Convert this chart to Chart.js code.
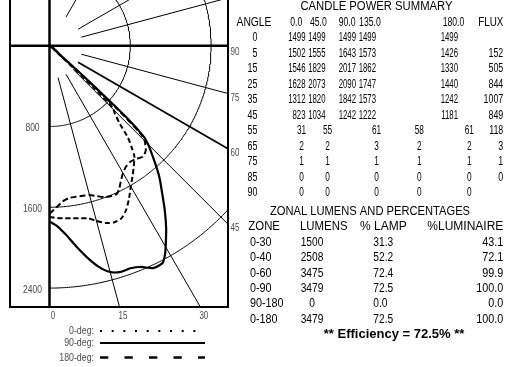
<!DOCTYPE html>
<html>
<head>
<meta charset="utf-8">
<style>
  html, body { margin: 0; padding: 0; background: #fff; overflow: hidden; }
  canvas { display: block; }
</style>
<script src="https://cdn.jsdelivr.net/npm/chart.js@4/dist/chart.umd.min.js"></script>
</head>
<body>
<canvas id="c" width="505" height="367"></canvas>
<script>
// ---- Candela distribution curves (angle from nadir in degrees, candela) ----
const curve0Angles = [0, 2.5, 5, 7.5, 10, 12.5, 15, 17.5, 20, 22.5, 25, 27.5, 30, 32.5, 35, 37.5, 39, 40.5, 42, 44, 45.5, 46.5, 47.5, 49, 55, 65, 75, 85, 90];
const curve0Cd     = [1695, 1708, 1716, 1724, 1736, 1750, 1795, 1840, 1862, 1853, 1795, 1705, 1610, 1530, 1455, 1380, 1290, 1195, 1040, 930, 880, 600, 250, 60, 31, 2, 1, 0, 0];

const curve90Angles = [0, 2.5, 5, 7.5, 10, 12.5, 15, 17.5, 20, 22.5, 25, 27.5, 29, 30, 32.5, 35, 37.5, 40, 42.5, 44, 45, 46, 47, 48, 49, 55, 65, 75, 85, 90];
const curve90Cd     = [1740, 1790, 1880, 2000, 2125, 2240, 2320, 2348, 2345, 2370, 2430, 2425, 2360, 2300, 2150, 1990, 1830, 1690, 1530, 1440, 1380, 1300, 1050, 500, 150, 61, 3, 1, 0, 0];

const curve180Angles = [0, 2.5, 5, 7.5, 10, 12.5, 15, 17.5, 20, 22.5, 24.5, 26, 27.5, 30, 32.5, 35, 37.5, 40, 42.5, 44, 45, 46, 47, 48, 49, 55, 65, 75, 85, 90];
const curve180Cd     = [1665, 1600, 1545, 1520, 1518, 1522, 1530, 1562, 1595, 1610, 1610, 1575, 1525, 1455, 1415, 1400, 1412, 1435, 1410, 1365, 1335, 1250, 900, 400, 100, 61, 2, 1, 0, 0];

// ---- Polar grid ----
const ringValues   = [800, 1600, 2400];
const spokeAngles  = [15, 30, 45, 60, 75, 105, 120, 150];
const heavySpoke   = 60;
const angleLabels  = [0, 15, 30, 45, 60, 75, 90];

// ---- Candle power summary ----
const cpTitle      = 'CANDLE POWER SUMMARY';
const cpAngleHead  = 'ANGLE';
const cpPlanes     = ['0.0', '45.0', '90.0', '135.0', '180.0'];
const cpFluxHead   = 'FLUX';
const cpAngles     = [0, 5, 15, 25, 35, 45, 55, 65, 75, 85, 90];
const cp0          = [1499, 1502, 1546, 1628, 1312, 823, 31, 2, 1, 0, 0];
const cp45         = [1499, 1555, 1829, 2073, 1820, 1034, 55, 2, 1, 0, 0];
const cp90         = [1499, 1643, 2017, 2090, 1842, 1242, 61, 3, 1, 0, 0];
const cp135        = [1499, 1573, 1862, 1747, 1573, 1222, 58, 2, 1, 0, 0];
const cp180        = [1499, 1426, 1330, 1440, 1242, 1181, 61, 2, 1, 0, 0];
const cpFlux       = [null, 152, 505, 844, 1007, 849, 118, 3, 1, 0, null];

// ---- Zonal lumens ----
const zlTitle      = 'ZONAL LUMENS AND PERCENTAGES';
const zlHeads      = ['ZONE', 'LUMENS', '% LAMP', '%LUMINAIRE'];
const zlZones      = ['0-30', '0-40', '0-60', '0-90', '90-180', '0-180'];
const zlLumens     = [1500, 2508, 3475, 3479, 0, 3479];
const zlPctLamp    = [31.3, 52.2, 72.4, 72.5, 0.0, 72.5];
const zlPctLum     = [43.1, 72.1, 99.9, 100.0, 0.0, 100.0];
const efficiency   = 72.5;

// ---- Legend ----
const legendLabels = ['0-deg:', '90-deg:', '180-deg:'];

// ---- Layout ----
const W = 505, H = 367;
const ORIGIN = { x: 49.5, y: 45.7 };      // lamp centre, px
const PX_PER_CD = 0.101;
const FRAME = { left: 10, right: 228, bottom: 307 };
const SPOKE_START = 33;                    // px from the centre
const FONT = '"Liberation Sans", Arial, sans-serif';
const GREY = '#4a4a4a';

const rad = d => d * Math.PI / 180;
const polar = (deg, cd) => ({ x: cd * Math.sin(rad(deg)), y: -cd * Math.cos(rad(deg)) });
const curvePoints = (angles, cds) => angles.map((a, i) => polar(a, cds[i]));

const ringDatasets = ringValues.map(v => {
  const pts = [];
  for (let a = 0; a <= 180; a += 0.5) pts.push(polar(a, v));
  return { data: pts, showLine: true, borderColor: '#000', borderWidth: 1, pointRadius: 0, tension: 0 };
});

const spokeDatasets = spokeAngles.map(a => ({
  data: [polar(a, SPOKE_START / PX_PER_CD), polar(a, 6000)],
  showLine: true, borderColor: '#000', borderWidth: a === heavySpoke ? 1.8 : 1,
  pointRadius: 0, tension: 0
}));

const curveDatasets = [
  { label: '0-deg',   data: curvePoints(curve0Angles, curve0Cd),   borderDash: [5, 3], borderWidth: 2 },
  { label: '90-deg',  data: curvePoints(curve90Angles, curve90Cd), borderDash: [],     borderWidth: 2.2 },
  { label: '180-deg', data: curvePoints(curve180Angles, curve180Cd), borderDash: [6, 3], borderWidth: 2 }
].map(d => Object.assign(d, { showLine: true, borderColor: '#000', pointRadius: 0, tension: 0.25, borderCapStyle: 'butt' }));

// text helper: horizontal squeeze, vertical centring on cap height
function text(ctx, s, x, y, o = {}) {
  const size = o.size || 12, sx = o.sx || 0.92, align = o.align || 'left';
  ctx.save();
  ctx.font = (o.bold ? 'bold ' : '') + size + 'px ' + FONT;
  ctx.fillStyle = o.color || '#000';
  ctx.textBaseline = 'alphabetic';
  ctx.textAlign = 'left';
  const w = ctx.measureText(s).width * sx;
  const x0 = align === 'left' ? x : align === 'right' ? x - w : x - w / 2;
  ctx.translate(x0, y + size * 0.358);
  ctx.scale(sx, 1);
  ctx.fillText(s, 0, 0);
  ctx.restore();
}

const framePlugin = {
  id: 'photometricFrame',
  beforeDatasetsDraw(chart) {
    const ctx = chart.ctx;
    ctx.save();
    ctx.beginPath();
    ctx.rect(ORIGIN.x, -50, FRAME.right - ORIGIN.x, FRAME.bottom + 50);
    ctx.clip();
  },
  afterDatasetsDraw(chart) {
    const ctx = chart.ctx;
    ctx.restore();
    const sx = chart.scales.x, sy = chart.scales.y;
    const ox = sx.getPixelForValue(0), oy = sy.getPixelForValue(0);
    ctx.save();
    ctx.strokeStyle = '#000';
    ctx.lineCap = 'butt';
    ctx.lineWidth = 2;
    ctx.beginPath();
    ctx.moveTo(FRAME.left, -5); ctx.lineTo(FRAME.left, FRAME.bottom);
    ctx.lineTo(FRAME.right, FRAME.bottom); ctx.lineTo(FRAME.right, -5);
    ctx.stroke();
    ctx.lineWidth = 2.5;
    ctx.beginPath();
    ctx.moveTo(ox, -5); ctx.lineTo(ox, FRAME.bottom);
    ctx.moveTo(FRAME.left, oy); ctx.lineTo(FRAME.right, oy);
    ctx.stroke();
    ctx.restore();
  },
  afterDraw(chart) {
    const ctx = chart.ctx;
    const sx = chart.scales.x, sy = chart.scales.y;
    const ox = sx.getPixelForValue(0), oy = sy.getPixelForValue(0);

    // ring values on the left margin
    ringValues.forEach(v => {
      text(ctx, String(v), 32.5, sy.getPixelForValue(-v) + 1, { size: 10, sx: 0.85, align: 'center', color: GREY });
    });

    // angle labels where spokes meet the frame
    angleLabels.forEach(a => {
      const t = rad(a);
      const xb = ox + (FRAME.bottom - oy) * Math.tan(t);
      if (a < 90 && xb <= FRAME.right) {
        text(ctx, String(a), xb + 3.5, FRAME.bottom + 8.5, { size: 10, sx: 0.8, align: 'center', color: GREY });
      } else {
        const yr = a === 90 ? oy + 2.5 : oy + (FRAME.right - ox) / Math.tan(t);
        text(ctx, String(a), FRAME.right + 2.5, yr + 3.5, { size: 10, sx: 0.8, align: 'left', color: GREY });
      }
    });

    // legend
    const lx0 = 100, lx1 = 205;
    const ly = [331, 343, 357.5];
    legendLabels.forEach((s, i) => text(ctx, s, 94, ly[i] - 0.5, { size: 10, sx: 0.88, align: 'right', color: GREY }));
    ctx.save();
    ctx.strokeStyle = '#000';
    ctx.lineCap = 'butt';
    ctx.lineWidth = 2;
    ctx.setLineDash([2, 9.67]);
    ctx.beginPath(); ctx.moveTo(lx0, ly[0]); ctx.lineTo(lx0 + 96, ly[0]); ctx.stroke();
    ctx.setLineDash([]);
    ctx.beginPath(); ctx.moveTo(lx0, ly[1]); ctx.lineTo(lx1, ly[1]); ctx.stroke();
    ctx.lineWidth = 2.5;
    ctx.setLineDash([8.3, 16.2]);
    ctx.beginPath(); ctx.moveTo(lx0, ly[2]); ctx.lineTo(lx1, ly[2]); ctx.stroke();
    ctx.restore();

    // candle power summary
    const NUM = 0.65;
    const cpRowY = i => 37 + i * 15.5;
    text(ctx, cpTitle, 376.5, 6, { size: 12, sx: 0.94, align: 'center' });
    text(ctx, cpAngleHead, 236.5, 21.5, { size: 12, sx: 0.86 });
    const headRight = [302.3, 326.7, 355.5, 380.7, 464.3];
    cpPlanes.forEach((h, i) => text(ctx, h, headRight[i], 21.5, { size: 12, sx: 0.72, align: 'right' }));
    text(ctx, cpFluxHead, 503.3, 21.5, { size: 12, sx: 0.82, align: 'right' });
    const bigRight = [305.5, 325.5, 356, 376, 458];
    const smallCenter = [301.5, 327.5, 376.5, 419.3, 469.3];
    const cols = [cp0, cp45, cp90, cp135, cp180];
    cpAngles.forEach((a, r) => {
      const y = cpRowY(r);
      text(ctx, String(a), 257.5, y, { size: 12, sx: 0.74, align: 'right' });
      cols.forEach((col, c) => {
        const s = String(col[r]);
        if (s.length >= 3) text(ctx, s, bigRight[c], y, { size: 12, sx: NUM, align: 'right' });
        else text(ctx, s, smallCenter[c], y, { size: 12, sx: NUM + 0.04, align: 'center' });
      });
      if (cpFlux[r] !== null) text(ctx, String(cpFlux[r]), 503.3, y, { size: 12, sx: 0.74, align: 'right' });
    });

    // zonal lumens table
    text(ctx, zlTitle, 370, 210.5, { size: 12, sx: 0.93, align: 'center' });
    text(ctx, zlHeads[0], 248.3, 226, { size: 12, sx: 0.95 });
    text(ctx, zlHeads[1], 300, 226, { size: 12, sx: 0.95 });
    text(ctx, zlHeads[2], 360, 226, { size: 12, sx: 1.0 });
    text(ctx, zlHeads[3], 503.3, 226, { size: 12, sx: 1.0, align: 'right' });
    zlZones.forEach((z, i) => {
      const y = 241.5 + i * 15.4;
      text(ctx, z, 250, y, { size: 12, sx: 0.9 });
      text(ctx, String(zlLumens[i]), 312, y, { size: 12, sx: 0.85, align: 'center' });
      text(ctx, zlPctLamp[i].toFixed(1), 373.3, y, { size: 12, sx: 0.85 });
      text(ctx, zlPctLum[i].toFixed(1), 503.3, y, { size: 12, sx: 0.9, align: 'right' });
    });
    text(ctx, '** Efficiency = ' + efficiency.toFixed(1) + '% **', 394, 333.5, { size: 13, sx: 1.0, align: 'center', bold: true });
  }
};

new Chart(document.getElementById('c'), {
  type: 'scatter',
  data: { datasets: [...ringDatasets, ...spokeDatasets, ...curveDatasets] },
  options: {
    responsive: false,
    animation: false,
    devicePixelRatio: 1,
    layout: { padding: 0 },
    events: [],
    plugins: { legend: { display: false }, tooltip: { enabled: false }, title: { display: false } },
    scales: {
      x: { type: 'linear', display: false, min: -ORIGIN.x / PX_PER_CD, max: (W - ORIGIN.x) / PX_PER_CD },
      y: { type: 'linear', display: false, min: -(H - ORIGIN.y) / PX_PER_CD, max: ORIGIN.y / PX_PER_CD }
    }
  },
  plugins: [framePlugin]
});
</script>
</body>
</html>
